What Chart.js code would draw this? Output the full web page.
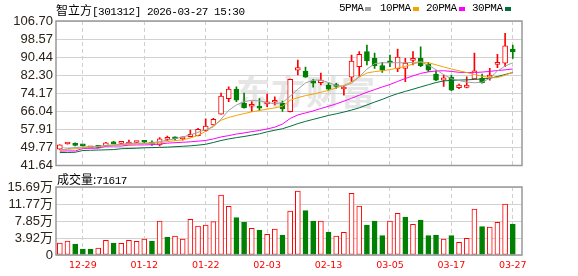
<!DOCTYPE html>
<html>
<head>
<meta charset="utf-8">
<script src="https://cdn.jsdelivr.net/npm/chart.js@4.4.1/dist/chart.umd.min.js"></script>
<style>
html, body { margin: 0; padding: 0; background: #fff; }
#wrap { position: relative; width: 578px; height: 276px; overflow: hidden; background: #fff; }
#wrap canvas { position: absolute; left: 0; top: 0; }
.txt { position: absolute; white-space: nowrap; color: #000; line-height: 14px; }
.cjk { font: 12px "Noto Sans CJK SC", sans-serif; }
.mono { font: 11px "Liberation Mono", monospace; letter-spacing: -0.5px; }
.sq { position: absolute; width: 6px; height: 4px; top: 7px; }
.wm { position: absolute; left: 236px; top: 66px; font: bold 34px "Noto Sans CJK SC", sans-serif; color: #e6e6e6; letter-spacing: 1px; }
</style>
</head>
<body>
<div id="wrap">
  <div class="wm">东方财富</div>
  <canvas id="kline" width="578" height="276"></canvas>
  <canvas id="vol" width="578" height="276"></canvas>
  <div class="txt" style="left:56px;top:1px"><span class="cjk">智立方</span><span class="mono">[301312] 2026-03-27 15:30</span></div>
  <div class="txt mono" style="left:339px;top:2px">5PMA</div><div class="sq" style="left:365px;background:#a0a0a0"></div>
  <div class="txt mono" style="left:380px;top:2px">10PMA</div><div class="sq" style="left:413px;background:#f5a300"></div>
  <div class="txt mono" style="left:426px;top:2px">20PMA</div><div class="sq" style="left:459px;background:#ff00ff"></div>
  <div class="txt mono" style="left:472px;top:2px">30PMA</div><div class="sq" style="left:505px;background:#00703a"></div>
  <div class="txt" style="left:57px;top:170px"><span class="cjk">成交量:</span><span class="mono">71617</span></div>
</div>
<script>
// trading days shown
const dates = ['12-24','12-25','12-26','12-29','12-30','12-31','01-05','01-06','01-07','01-08',
  '01-09','01-12','01-13','01-14','01-15','01-16','01-19','01-20','01-21','01-22',
  '01-23','01-26','01-27','01-28','01-29','01-30','02-02','02-03','02-04','02-05',
  '02-06','02-09','02-10','02-11','02-12','02-13','02-24','02-25','02-26','02-27',
  '03-02','03-03','03-04','03-05','03-06','03-09','03-10','03-11','03-12','03-13',
  '03-16','03-17','03-18','03-19','03-20','03-23','03-24','03-25','03-26','03-27'];
const tickDates = ['12-29','01-12','01-22','02-03','02-13','03-05','03-17','03-27'];

const open  = [49.0,51.3,51.2,50.7,49.6,50.1,50.4,52.0,51.6,51.3, 52.0,52.4,51.9,50.9,53.4,54.2,53.6,54.6,55.1,57.3,
               59.9,64.8,71.7,76.1,69.7,68.3,67.9,69.4,70.1,69.6, 65.9,84.6,84.1,79.8,78.9,77.9,77.7,76.1,81.4,86.1,
               92.9,89.9,86.6,88.4,85.1,85.4,89.0,89.9,87.3,82.8, 80.1,81.4,76.7,76.8,80.6,80.9,81.4,87.2,87.7,94.1];
const high  = [51.0,51.9,51.9,51.0,50.1,50.6,52.1,52.5,52.2,53.1, 52.3,52.8,52.7,54.2,54.9,54.6,54.6,57.6,58.4,62.6,
               62.9,74.2,77.1,77.1,74.2,70.4,71.8,73.8,72.6,70.7, 80.5,89.1,85.9,80.4,83.2,78.7,78.6,77.4,91.4,92.9,
               95.9,92.2,88.1,91.4,94.1,89.9,92.9,95.1,88.1,84.3, 82.4,82.4,78.3,81.6,92.2,82.8,85.4,91.7,101.2,95.9];
const low   = [48.9,51.2,50.4,50.3,49.5,49.7,50.3,51.3,51.2,51.2, 51.9,51.7,50.7,50.4,52.8,53.1,53.1,54.5,55.0,57.0,
               59.8,64.8,70.4,70.4,67.4,65.9,66.4,68.1,68.9,66.0, 65.8,82.4,81.3,76.9,77.9,75.6,76.4,73.3,79.4,81.9,
               86.9,85.4,83.6,86.1,83.9,79.4,86.9,86.1,83.9,79.8, 77.3,75.3,76.2,76.6,80.5,78.7,80.1,85.7,86.1,89.9];
const close = [50.9,51.8,50.7,50.5,50.0,49.8,51.9,51.4,51.9,51.9, 52.2,52.1,51.3,53.7,53.8,53.7,54.0,55.7,57.9,59.4,
               62.4,72.9,76.0,71.1,67.7,68.9,67.5,70.0,70.7,67.1, 80.4,85.7,81.4,78.7,80.1,76.0,77.2,76.9,88.7,91.7,
               88.7,86.6,84.6,87.9,90.4,87.7,89.9,86.6,84.6,80.1, 81.1,75.6,77.9,77.9,84.3,78.9,82.2,87.7,95.5,92.8];

const ma5  = [48.6,49.2,49.7,50.0,50.1,50.3,50.7,50.9,51.2,51.6, 51.7,51.7,51.9,52.4,53.0,53.7,54.5,55.4,56.6,57.8,
              59.0,62.5,66.5,68.9,70.4,71.0,70.7,70.0,69.4,70.0, 72.8,76.0,78.8,80.1,80.1,79.0,77.6,77.4,78.7,81.6,
              85.0,87.5,87.9,87.9,87.9,87.9,88.0,88.3,86.8,84.8, 82.5,80.7,79.9,79.2,78.9,79.1,80.9,84.2,86.4,87.9];
const ma10 = [48.5,48.9,49.2,49.6,49.9,50.2,50.5,50.8,51.0,51.2, 51.4,51.5,51.6,51.9,52.4,52.8,53.2,54.0,55.2,57.0,
              59.6,62.0,63.3,64.2,65.0,65.8,66.4,67.0,67.6,68.3, 71.0,72.2,73.1,73.8,74.6,75.5,76.6,77.7,79.3,81.4,
              83.3,83.9,84.3,84.8,85.5,86.3,87.3,88.3,87.9,87.0, 86.0,85.1,84.3,83.5,82.6,81.8,81.2,81.2,82.3,83.7];
const ma20 = [48.1,48.2,48.2,49.3,49.4,49.4,50.3,50.4,50.4,50.8, 50.9,50.9,51.0,51.3,51.7,51.9,52.1,52.3,52.6,52.9,
              53.6,54.5,55.1,55.8,56.3,56.9,57.4,58.1,58.9,60.3, 62.8,64.4,65.3,66.2,67.3,68.3,69.4,70.6,71.9,73.3,
              74.6,75.8,77.0,78.1,79.5,80.8,82.0,83.1,83.8,84.2, 84.3,84.0,83.6,83.5,83.5,83.7,84.0,84.4,84.7,85.1];
const ma30 = [47.5,47.5,47.6,48.4,48.5,48.6,48.7,48.8,49.2,49.3, 49.4,49.6,49.7,49.8,49.9,50.1,50.3,50.5,50.8,51.2,
              52.0,52.9,53.6,54.2,54.7,55.3,55.9,56.8,57.5,58.2, 59.3,60.5,61.5,62.4,63.3,64.2,64.9,65.7,66.6,67.6,
              68.9,70.2,71.4,72.8,74.0,75.0,76.0,77.0,78.0,79.0, 79.7,80.0,80.1,80.2,80.4,80.6,80.9,81.7,82.6,83.5];

// volume in 万, and whether the day closed up (red) or down (green)
const volume = [2.77,3.23,2.54,1.38,1.38,1.61,3.38,2.77,2.69,3.38, 3.15,3.69,3.23,7.84,4.15,4.38,3.69,8.22,6.69,6.92,
                7.69,13.84,11.22,8.61,7.53,6.15,5.77,4.77,6.00,4.61, 10.15,14.76,10.23,7.84,7.84,5.31,4.38,5.23,14.23,11.30,
                6.92,7.84,4.46,7.84,9.61,8.77,7.07,8.07,4.46,4.61, 3.69,4.46,2.92,3.84,10.61,6.54,6.46,7.53,11.76,7.16];
const volUp = [1,1,0,0,0,1,1,0,1,1, 1,1,0,1,0,1,1,1,1,1, 1,1,1,0,0,1,0,1,1,0,
               1,1,0,0,1,0,1,1,1,1, 0,0,0,1,1,0,1,0,0,0, 1,0,1,1,1,0,1,1,1,0];

const priceTicks = [41.64, 49.7725, 57.905, 66.0375, 74.17, 82.3025, 90.435, 98.5675, 106.70];
const priceTickLabels = ['41.64','49.77','57.91','66.04','74.17','82.30','90.44','98.57','106.70'];
const volTicks = [0, 3.9225, 7.845, 11.7675, 15.69];
const volTickLabels = ['0','3.92万','7.85万','11.77万','15.69万'];

const RED = '#ff0000', GREEN = '#008000';
const idx = dates.map((d, i) => i);
const tickIdx = tickDates.map(d => dates.indexOf(d));
const up = idx.map(i => close[i] >= open[i]);

const frame = {
  id: 'frame',
  afterDraw(chart) {
    const { ctx, chartArea: a } = chart;
    ctx.save();
    ctx.strokeStyle = '#999';
    ctx.lineWidth = 1.5;
    ctx.strokeRect(a.left, a.top, a.right - a.left, a.bottom - a.top);
    ctx.restore();
  }
};

function xAxis(showLabels) {
  return {
    type: 'linear',
    min: -0.5,
    max: 60.2,
    offset: false,
    afterBuildTicks: s => { s.ticks = tickIdx.map(v => ({ value: v })); },
    afterFit: s => { s.height = showLabels ? 21 : 0; },
    grid: { color: '#cfcfcf', drawTicks: false, offset: false },
    border: { display: false, dash: [4, 3] },
    ticks: {
      display: showLabels,
      autoSkip: false,
      maxRotation: 0,
      padding: 5,
      color: RED,
      font: { family: 'DejaVu Sans', size: 9.5 },
      callback: v => dates[v]
    }
  };
}

function yAxis(min, max, ticks, labels) {
  return {
    min: min,
    max: max,
    afterBuildTicks: s => { s.ticks = ticks.map(v => ({ value: v })); },
    afterFit: s => { s.width = 56; },
    grid: { color: '#d2d2d2', drawTicks: false },
    border: { display: false },
    ticks: {
      autoSkip: false,
      padding: 3,
      color: '#2b2218',
      font: { family: "'Liberation Sans', 'Noto Sans CJK SC'", size: 13 },
      callback: (v, i) => labels[i]
    }
  };
}

const maLine = (label, values, color) => ({
  type: 'line',
  label: label,
  data: idx.map(i => ({ x: i, y: values[i] })),
  borderColor: color,
  borderWidth: 1,
  pointRadius: 0,
  tension: 0,
  order: -1
});

new Chart(document.getElementById('kline'), {
  type: 'bar',
  data: {
    datasets: [
      {
        label: 'body',
        data: idx.map(i => ({ x: i, y: [open[i], close[i]] })),
        backgroundColor: idx.map(i => up[i] ? '#ffffff' : GREEN),
        borderColor: idx.map(i => up[i] ? RED : GREEN),
        borderWidth: 1,
        borderSkipped: false,
        barThickness: 5,
        minBarLength: 2,
        grouped: false,
        order: 0
      },
      {
        label: 'wick',
        data: idx.map(i => ({ x: i, y: [low[i], high[i]] })),
        backgroundColor: idx.map(i => up[i] ? RED : GREEN),
        borderWidth: 0,
        barThickness: 1,
        grouped: false,
        order: 1
      },
      maLine('5PMA', ma5, '#a0a0a0'),
      maLine('10PMA', ma10, '#f5a300'),
      maLine('20PMA', ma20, '#ff00ff'),
      maLine('30PMA', ma30, '#00703a')
    ]
  },
  options: {
    responsive: false,
    devicePixelRatio: 1,
    animation: false,
    layout: { padding: { top: 21, right: 56, bottom: 110.5, left: 0 } },
    scales: {
      x: xAxis(false),
      y: yAxis(41.64, 106.70, priceTicks, priceTickLabels)
    },
    plugins: { legend: { display: false }, tooltip: { enabled: false } }
  },
  plugins: [frame]
});

new Chart(document.getElementById('vol'), {
  type: 'bar',
  data: {
    datasets: [{
      label: '成交量',
      data: idx.map(i => ({ x: i, y: volume[i] })),
      backgroundColor: idx.map(i => volUp[i] ? '#ffffff' : GREEN),
      borderColor: idx.map(i => volUp[i] ? RED : GREEN),
      borderWidth: 1,
      borderSkipped: false,
      barThickness: 5,
      grouped: false
    }]
  },
  options: {
    responsive: false,
    devicePixelRatio: 1,
    animation: false,
    layout: { padding: { top: 187, right: 56, bottom: 0, left: 0 } },
    scales: {
      x: xAxis(true),
      y: yAxis(0, 15.69, volTicks, volTickLabels)
    },
    plugins: { legend: { display: false }, tooltip: { enabled: false } }
  },
  plugins: [frame]
});
</script>
</body>
</html>
